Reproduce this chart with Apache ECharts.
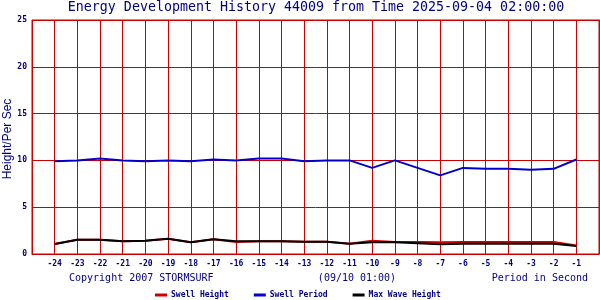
<!DOCTYPE html>
<html><head><meta charset="utf-8">
<script src="https://cdn.jsdelivr.net/npm/echarts@6/dist/echarts.min.js"></script>
<style>html,body{margin:0;padding:0;background:#fff}#c{width:600px;height:300px}</style>
</head><body><div id="c"></div>
<script>
const hours = [-24,-23,-22,-21,-20,-19,-18,-17,-16,-15,-14,-13,-12,-11,-10,-9,-8,-7,-6,-5,-4,-3,-2,-1];
const swellHeight = [1.07,1.53,1.53,1.35,1.42,1.64,1.25,1.57,1.28,1.35,1.35,1.32,1.32,1.1,1.42,1.28,1.28,1.25,1.28,1.28,1.28,1.28,1.28,0.9];
const swellPeriod = [9.9,10.0,10.2,10.0,9.9,10.0,9.9,10.1,10.0,10.2,10.2,9.9,10.0,10.0,9.2,10.0,9.2,8.4,9.2,9.1,9.1,9.0,9.1,10.1];
const maxWave = [1.07,1.53,1.53,1.35,1.42,1.64,1.25,1.57,1.35,1.35,1.35,1.32,1.32,1.1,1.25,1.25,1.15,1.03,1.1,1.1,1.1,1.1,1.1,0.85];
const seriesNames = ['Swell Height','Swell Period','Max Wave Height'];
const titleText = 'Energy Development History 44009 from Time 2025-09-04 02:00:00';
const yName = 'Height/Per Sec';

const NAVY = '#000080', GRID = '#cc0000';
const mono = 'DejaVu Sans Mono';
const pairs = a => hours.map((h,i)=>[h,a[i]]);

const chart = echarts.init(document.getElementById('c'));
chart.setOption({
  animation:false,
  grid:{left:32,right:1,top:20,bottom:46,show:true,borderColor:GRID,borderWidth:1,containLabel:false,outerBoundsMode:'none'},
  xAxis:{type:'value',min:-25,max:0,interval:1,
    axisLine:{lineStyle:{color:GRID,width:1}},axisTick:{show:false},
    splitLine:{show:true,lineStyle:{color:GRID,width:1}},
    axisLabel:{color:NAVY,fontFamily:mono,fontSize:8,fontWeight:'bold',margin:6,
      formatter:v=>(v===-25||v===0)?'':String(v)}},
  yAxis:{type:'value',min:0,max:25,interval:5,
    axisLine:{show:true,lineStyle:{color:GRID,width:1}},axisTick:{show:false},
    splitLine:{show:true,lineStyle:{color:GRID,width:1,type:'solid'}},
    axisLabel:{color:NAVY,fontFamily:mono,fontSize:8,fontWeight:'bold',margin:5}},
  legend:{left:155,top:291,padding:0,itemWidth:12,itemHeight:3,itemGap:25,icon:'rect',
    textStyle:{color:NAVY,fontFamily:mono,fontSize:8,fontWeight:'bold',padding:[0,0,0,-1]},
    data:seriesNames},
  series:[
    {name:seriesNames[0],type:'line',data:pairs(swellHeight),showSymbol:false,symbol:'none',lineStyle:{color:'#cc0000',width:2},itemStyle:{color:'#cc0000'}},
    {name:seriesNames[1],type:'line',data:pairs(swellPeriod),showSymbol:false,symbol:'none',lineStyle:{color:'#0000cc',width:2},itemStyle:{color:'#0000cc'}},
    {name:seriesNames[2],type:'line',data:pairs(maxWave),showSymbol:false,symbol:'none',lineStyle:{color:'#000000',width:2},itemStyle:{color:'#000000'}}
  ],
  graphic:[
    {type:'text',x:316,y:8,style:{text:titleText,fill:NAVY,font:'13.3px "DejaVu Sans Mono"',textAlign:'center',textVerticalAlign:'middle'}},
    {type:'text',x:8,y:139,rotation:Math.PI/2,style:{text:yName,fill:NAVY,font:'12px "Liberation Sans"',textAlign:'center',textVerticalAlign:'middle'}},
    {type:'text',x:69,y:278,style:{text:'Copyright 2007 STORMSURF',fill:NAVY,font:'10px "DejaVu Sans Mono"',textAlign:'left',textVerticalAlign:'middle'}},
    {type:'text',x:357,y:278,style:{text:'(09/10 01:00)',fill:NAVY,font:'10px "DejaVu Sans Mono"',textAlign:'center',textVerticalAlign:'middle'}},
    {type:'text',x:588,y:278,style:{text:'Period in Second',fill:NAVY,font:'10px "DejaVu Sans Mono"',textAlign:'right',textVerticalAlign:'middle'}}
  ]
});
</script></body></html>
